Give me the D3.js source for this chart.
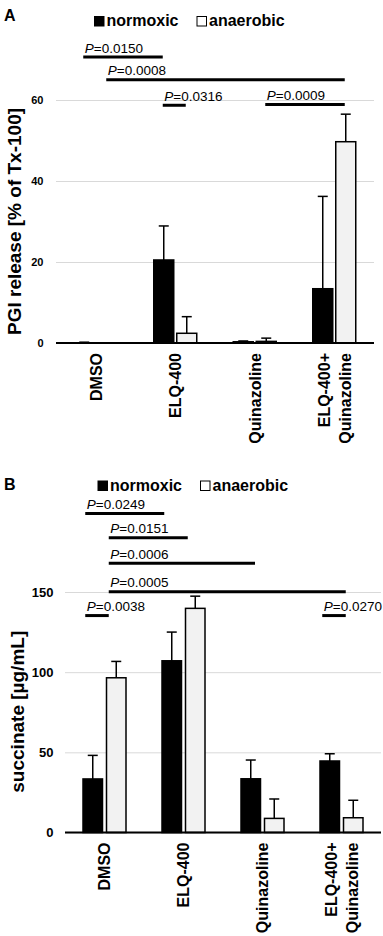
<!DOCTYPE html>
<html>
<head>
<meta charset="utf-8">
<script src="https://cdn.jsdelivr.net/npm/d3@7"></script>
<style>
  body { margin: 0; background: #fff; }
  svg { display: block; font-family: Arial, "Liberation Sans", sans-serif; }
</style>
</head>
<body>
<svg id="chart" width="383" height="936"></svg>
<script>
// categories
const groups = ["DMSO", "ELQ-400", "Quinazoline", "ELQ-400+Quinazoline"];
const groupLabelLines = [["DMSO"], ["ELQ-400"], ["Quinazoline"], ["ELQ-400+", "Quinazoline"]];
const conditions = ["normoxic", "anaerobic"];

// panel A: PGI release [% of Tx-100]
const pgiNormoxic = [0.05, 20.5, 0.3, 13.4];
const pgiNormoxicSd = [0.15, 8.4, 0.2, 22.8];
const pgiAnaerobic = [0, 2.4, 0.4, 49.7];
const pgiAnaerobicSd = [0, 4.1, 0.8, 6.8];
const pgiTicks = [0, 20, 40, 60];
// p-value brackets: [group, condition] -> [group, condition] (condition -1 = group centre), level in data units
const pgiSig = [
    { p: "0.0150", from: [0, 0], to: [1, 0], level: 70.6 },
    { p: "0.0008", from: [0, 1], to: [3, 1], level: 65.0 },
    { p: "0.0316", from: [1, 0], to: [1, 1], level: 58.7 },
    { p: "0.0009", from: [2, 1], to: [3, 1], level: 58.9 }
];

// panel B: succinate [µg/mL]
const sucNormoxic = [33.4, 107.1, 33.5, 44.6];
const sucNormoxicSd = [14.7, 17.9, 11.7, 4.5];
const sucAnaerobic = [96.5, 139.8, 8.8, 9.2];
const sucAnaerobicSd = [10.2, 7.6, 12.1, 10.9];
const sucTicks = [0, 50, 100, 150];
const sucSig = [
    { p: "0.0249", from: [0, 0], to: [1, 0], level: 199 },
    { p: "0.0151", from: [0, 1], to: [1, 1], level: 183.8 },
    { p: "0.0006", from: [0, 1], to: [2, -1], level: 167.9 },
    { p: "0.0005", from: [0, 1], to: [3, 1], level: 150.2 },
    { p: "0.0038", from: [0, 0], to: [0, 1], level: 135.3 },
    { p: "0.0270", from: [3, 0], to: [3, 1], level: 135.3 }
];

const fillColors = { normoxic: "#000000", anaerobic: "#f2f2f2" };
const gridColor = "#d9d9d9";

function drawPanel(svg, cfg) {
    let g = svg.append("g");

    let xScale = d3.scaleBand()
        .domain(groups)
        .range([cfg.x0, cfg.x1]);

    let yScale = d3.scaleLinear()
        .domain([0, cfg.yMax])
        .range([cfg.yBottom, cfg.yTop]);

    let groupCenter = function(gi) {
        return xScale(groups[gi]) + xScale.bandwidth() / 2;
    };
    let barX = function(gi, ci) {
        let c = groupCenter(gi);
        return ci == 0 ? c - cfg.gap / 2 - cfg.barW : c + cfg.gap / 2;
    };
    let barCenter = function(gi, ci) {
        if (ci < 0) return groupCenter(gi);
        return barX(gi, ci) + cfg.barW / 2;
    };

    // gridlines + tick labels
    let yAxis = g.append("g")
        .attr("transform", "translate(" + cfg.x0 + ",0)")
        .call(d3.axisLeft(yScale).tickValues(cfg.ticks).tickSize(-(cfg.x1 - cfg.x0)).tickPadding(cfg.tickPad));
    yAxis.select(".domain").remove();
    yAxis.selectAll("line").attr("stroke", gridColor).attr("stroke-width", 1);
    yAxis.selectAll("text")
        .style("font-family", "Arial, 'Liberation Sans', sans-serif")
        .style("font-weight", "bold")
        .style("font-size", cfg.tickFont + "px")
        .attr("fill", "#000");

    // bar records
    let bars = [];
    groups.forEach(function(grp, gi) {
        conditions.forEach(function(cond, ci) {
            bars.push({
                gi: gi, ci: ci, cond: cond,
                mean: cfg.means[ci][gi],
                sd: cfg.sds[ci][gi]
            });
        });
    });

    // error bars (upper only)
    g.selectAll(".errLine")
        .data(bars.filter(function(d) { return d.sd > 0; }))
        .enter()
        .append("line")
        .attr("x1", function(d) { return barCenter(d.gi, d.ci); })
        .attr("x2", function(d) { return barCenter(d.gi, d.ci); })
        .attr("y1", function(d) { return yScale(d.mean); })
        .attr("y2", function(d) { return yScale(d.mean + d.sd); })
        .attr("stroke", "#000")
        .attr("stroke-width", 1.5);
    g.selectAll(".errCap")
        .data(bars.filter(function(d) { return d.sd > 0; }))
        .enter()
        .append("line")
        .attr("x1", function(d) { return barCenter(d.gi, d.ci) - 5; })
        .attr("x2", function(d) { return barCenter(d.gi, d.ci) + 5; })
        .attr("y1", function(d) { return yScale(d.mean + d.sd); })
        .attr("y2", function(d) { return yScale(d.mean + d.sd); })
        .attr("stroke", "#000")
        .attr("stroke-width", 1.5);

    // bars
    g.selectAll(".bar")
        .data(bars.filter(function(d) { return d.mean > 0; }))
        .enter()
        .append("rect")
        .attr("x", function(d) { return barX(d.gi, d.ci); })
        .attr("y", function(d) { return yScale(d.mean); })
        .attr("width", cfg.barW)
        .attr("height", function(d) { return yScale(0) - yScale(d.mean); })
        .attr("fill", function(d) { return fillColors[d.cond]; })
        .attr("stroke", "#000")
        .attr("stroke-width", 1.5);

    // x axis line
    g.append("line")
        .attr("x1", cfg.x0)
        .attr("x2", cfg.x1)
        .attr("y1", yScale(0))
        .attr("y2", yScale(0))
        .attr("stroke", "#000")
        .attr("stroke-width", 2);

    // rotated category labels
    groupLabelLines.forEach(function(lines, gi) {
        let cx = groupCenter(gi);
        lines.forEach(function(line, li) {
            let off = (li - (lines.length - 1) / 2) * 21;
            g.append("text")
                .attr("transform", "translate(" + (cx + off) + "," + (yScale(0) + 10) + ") rotate(-90)")
                .attr("dy", "0.36em")
                .style("text-anchor", "end")
                .style("font-weight", "bold")
                .style("font-size", "16px")
                .text(line);
        });
    });

    // significance brackets
    cfg.sig.forEach(function(s) {
        let xa = barCenter(s.from[0], s.from[1]) + cfg.sigShift;
        let xb = barCenter(s.to[0], s.to[1]) + cfg.sigShift;
        let yy = yScale(s.level);
        g.append("line")
            .attr("x1", xa)
            .attr("x2", xb)
            .attr("y1", yy)
            .attr("y2", yy)
            .attr("stroke", "#000")
            .attr("stroke-width", 3);
        let t = g.append("text")
            .attr("x", xa + 1.5)
            .attr("y", yy - 4.5)
            .style("font-size", "13.5px");
        t.append("tspan").style("font-style", "italic").text("P");
        t.append("tspan").text("=" + s.p);
    });

    // y axis title
    g.append("text")
        .attr("transform", "translate(" + cfg.titleX + "," + ((yScale(0) + yScale(cfg.yMax)) / 2 + cfg.titleShift) + ") rotate(-90)")
        .style("text-anchor", "middle")
        .style("font-weight", "bold")
        .style("font-size", "19px")
        .text(cfg.yTitle);

    // panel letter
    g.append("text")
        .attr("x", 4)
        .attr("y", cfg.letterY)
        .style("font-weight", "bold")
        .style("font-size", "16px")
        .text(cfg.letter);

    // legend
    let legend = g.append("g")
        .attr("transform", "translate(" + cfg.legendX + "," + cfg.legendY + ")");
    let legendItems = [
        { cond: "normoxic", dx: 0 },
        { cond: "anaerobic", dx: 102.5 }
    ];
    legend.selectAll("rect")
        .data(legendItems)
        .enter()
        .append("rect")
        .attr("x", function(d) { return d.dx + 0.5; })
        .attr("y", -9.5)
        .attr("width", 9.5)
        .attr("height", 9.5)
        .attr("fill", function(d) { return d.cond == "normoxic" ? "#000" : "#fff"; })
        .attr("stroke", "#000")
        .attr("stroke-width", 1);
    legend.selectAll("text")
        .data(legendItems)
        .enter()
        .append("text")
        .attr("x", function(d) { return d.dx + 12.5; })
        .attr("y", 0)
        .style("font-weight", "bold")
        .style("font-size", "16px")
        .text(function(d) { return d.cond; });
}

let svg = d3.select("#chart");

drawPanel(svg, {
    letter: "A", letterY: 21,
    legendX: 94, legendY: 26,
    x0: 56, x1: 374, yTop: 100, yBottom: 343, yMax: 60,
    barW: 20, gap: 3,
    ticks: pgiTicks, tickFont: 11, tickPad: 12.5,
    means: [pgiNormoxic, pgiAnaerobic],
    sds: [pgiNormoxicSd, pgiAnaerobicSd],
    sig: pgiSig, sigShift: -1,
    yTitle: "PGI release [% of Tx-100]", titleX: 21, titleShift: 0
});

drawPanel(svg, {
    letter: "B", letterY: 490,
    legendX: 97.5, legendY: 490.5,
    x0: 65, x1: 381, yTop: 592, yBottom: 832.5, yMax: 150,
    barW: 19.5, gap: 4,
    ticks: sucTicks, tickFont: 13, tickPad: 11.5,
    means: [sucNormoxic, sucAnaerobic],
    sds: [sucNormoxicSd, sucAnaerobicSd],
    sig: sucSig, sigShift: -7.5,
    yTitle: "succinate [\u00b5g/mL]", titleX: 24, titleShift: -0.5
});
</script>
</body>
</html>
